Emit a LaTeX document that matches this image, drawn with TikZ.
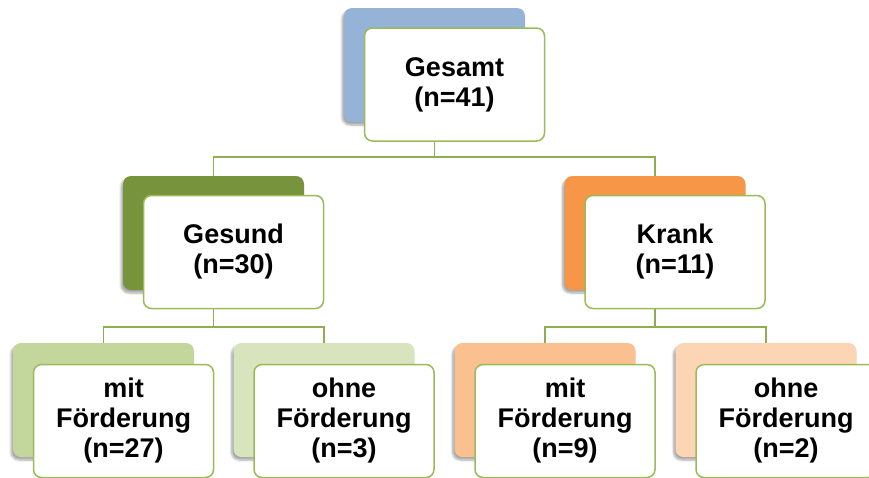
\documentclass[tikz,border=0pt]{standalone}
\usepackage{fontspec}
\setmainfont{Liberation Sans}
\usepackage{tikz}
\usetikzlibrary{shadows.blur}

\definecolor{rahmen}{HTML}{9BBB59}
\definecolor{linie}{HTML}{8FAE52}
\definecolor{blau}{HTML}{95B3D7}
\definecolor{gruen}{HTML}{77933C}
\definecolor{orange}{HTML}{F79646}
\definecolor{gruenhell}{HTML}{C3D69B}
\definecolor{gruenblass}{HTML}{D7E4BD}
\definecolor{orangehell}{HTML}{FAC090}
\definecolor{orangeblass}{HTML}{FCD5B5}

\begin{document}
\begin{tikzpicture}[x=1pt,y=-1pt]
    \tikzstyle{box}  = [draw=rahmen,line width=1.5pt,fill=white,rounded corners=8pt,
      minimum width=180pt,minimum height=113pt,inner sep=0pt,align=center,
      font=\fontsize{27}{30}\selectfont\bfseries]
    \tikzstyle{back} = [rounded corners=8pt,minimum width=181pt,minimum height=114pt,
      blur shadow={shadow xshift=-2pt,shadow yshift=-3pt,shadow blur steps=6,shadow opacity=35}]
    \tikzstyle{conn} = [draw=linie,line width=1.5pt]

    \useasboundingbox (0,0) rectangle (869,477);

    % obere Ebene
    \node[back,fill=blau] (gesamtbg) at (434.5,65) {};
    \node[box] (gesamt) at (454.5,84.5) {Gesamt\\(n=41)};

    % mittlere Ebene
    \node[back,fill=gruen] (gesundbg) at (213.5,233) {};
    \node[box] (gesund) at (233.5,252) {Gesund\\(n=30)};
    \node[back,fill=orange] (krankbg) at (655,233) {};
    \node[box] (krank) at (675,252) {Krank\\(n=11)};

    % untere Ebene
    \node[back,fill=gruenhell] (gmitbg) at (103.5,400) {};
    \node[box] (gmit) at (123.5,421) {mit\\Förderung\\(n=27)};
    \node[back,fill=gruenblass] (gohnebg) at (324,400) {};
    \node[box] (gohne) at (344,421) {ohne\\Förderung\\(n=3)};
    \node[back,fill=orangehell] (kmitbg) at (545,400) {};
    \node[box] (kmit) at (565,421) {mit\\Förderung\\(n=9)};
    \node[back,fill=orangeblass] (kohnebg) at (766,400) {};
    \node[box] (kohne) at (786,421) {ohne\\Förderung\\(n=2)};

    \coordinate (j0) at (434.5,157);
    \coordinate (j1) at (213.5,327);
    \coordinate (j2) at (655,327);

    \draw[conn] (gesamtbg.center |- gesamt.south) -- (j0);
    \draw[conn] (gesundbg.north) |- (j0) -| (krankbg.north);
    \draw[conn] (gesundbg.center |- gesund.south) -- (j1);
    \draw[conn] (gmitbg.north) |- (j1) -| (gohnebg.north);
    \draw[conn] (krankbg.center |- krank.south) -- (j2);
    \draw[conn] (kmitbg.north) |- (j2) -| (kohnebg.north);
  \end{tikzpicture}
\end{document}
